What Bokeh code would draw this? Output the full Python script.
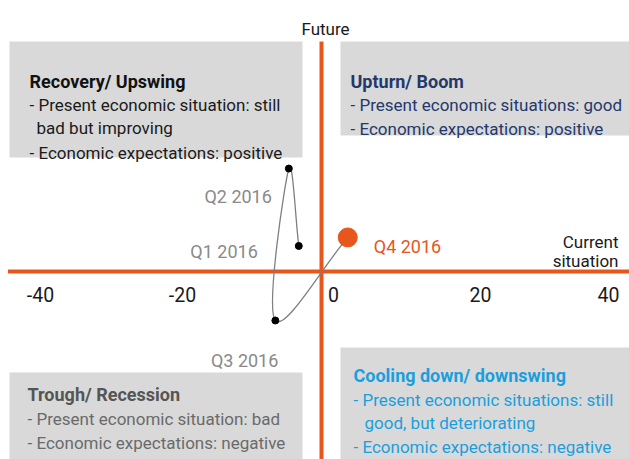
import numpy as np
from bokeh.plotting import figure
from bokeh.models import Range1d
from bokeh.core.properties import value
from bokeh.embed import file_html
from bokeh.resources import INLINE

# ---------------- data ----------------
quarters = ["Q1 2016", "Q2 2016", "Q3 2016", "Q4 2016"]
current_situation = [-3.2, -4.6, -6.5, 3.7]      # x: current situation
expectations = [3.6, 14.5, -6.9, 4.8]            # y: future expectations
tick_values = [-40, -20, 0, 20, 40]
tick_labels = ["-40", "-20", "0", "20", "40"]

# ---------------- layout helpers ----------------
W, H = 629, 459
S = 7.1          # pixels per unit
X0, Y0 = 321, 271  # pixel position of the origin


def dx(px):
    return (px - X0) / S


def dy(py):
    return (Y0 - py) / S


FONT = "Roboto"
ORANGE = "#e8561c"
BOX = "#d9d9da"
FS = "17px"
FS_TITLE = "18px"

p = figure(width=W, height=H, x_range=Range1d(dx(0), dx(W)),
           y_range=Range1d(dy(H), dy(0)), output_backend="svg",
           toolbar_location=None, min_border=0)
p.axis.visible = False
p.grid.visible = False
p.outline_line_color = None
p.background_fill_color = "white"
p.border_fill_color = "white"

# quadrant boxes (pixel extents -> data)
boxes = [(9, 302, 41, 157), (340, W, 41, 135), (9, 302, 372, H), (340, W, 347, H)]
p.quad(left=[dx(b[0]) for b in boxes], right=[dx(b[1]) for b in boxes],
       top=[dy(b[2]) for b in boxes], bottom=[dy(b[3]) for b in boxes],
       fill_color=BOX, line_color=None)

# axis lines
p.segment(x0=[dx(7.5), 0], y0=[0, dy(41)], x1=[dx(W), 0], y1=[0, dy(H)],
          line_color=ORANGE, line_width=4)


def txt(x, y, s, color, align="left", bold=False, size=FS):
    p.text(x=[x], y=[y], text=[s], text_color=color, text_align=align,
           text_baseline="alphabetic", text_font=value(FONT),
           text_font_size=size, text_font_style="bold" if bold else "normal")


# tick labels along the horizontal line
tick_dx = [3, 3, 12, 17, 3]
for v, lab, off in zip(tick_values, tick_labels, tick_dx):
    p.text(x=[v], y=[0], text=[lab], text_color="#1a1a1a", text_align="center",
           text_baseline="alphabetic", text_font=value(FONT),
           text_font_size="19.5px", x_offset=off, y_offset=23)

# axis titles
txt(dx(325), dy(28), "Future", "#1a1a1a", align="center")
txt(dx(618), dy(241), "Current", "#1a1a1a", align="right")
txt(dx(618), dy(260), "situation", "#1a1a1a", align="right")

# quadrant texts
TL, TLt = "#1a1a1a", "#111111"
txt(dx(29), dy(81), "Recovery/ Upswing", TLt, bold=True, size=FS_TITLE)
txt(dx(29), dy(104.5), "- Present economic situation: still", TL)
txt(dx(36), dy(127.5), "bad but improving", TL)
txt(dx(29), dy(152), "- Economic expectations: positive", TL)

TR = "#24386b"
txt(dx(350), dy(81), "Upturn/ Boom", TR, bold=True, size=FS_TITLE)
txt(dx(350), dy(104.5), "- Present economic situations: good", TR)
txt(dx(350), dy(128), "- Economic expectations: positive", TR)

BLt, BL = "#555555", "#6a6a6a"
txt(dx(27), dy(394), "Trough/ Recession", BLt, bold=True, size=FS_TITLE)
txt(dx(27), dy(418), "- Present economic situation: bad", BL)
txt(dx(27), dy(442), "- Economic expectations: negative", BL)

BR = "#1a9fdd"
txt(dx(353), dy(374.5), "Cooling down/ downswing", BR, bold=True, size=FS_TITLE)
txt(dx(353), dy(399.5), "- Present economic situations: still", BR)
txt(dx(364), dy(422), "good, but deteriorating", BR)
txt(dx(353), dy(446.5), "- Economic expectations: negative", BR)

# smooth path through the quarters (Catmull-Rom style bezier)
P = np.column_stack([current_situation, expectations]).astype(float)
n = len(P)
seg = {k: [] for k in ["x0", "y0", "x1", "y1", "cx0", "cy0", "cx1", "cy1"]}
for i in range(n - 1):
    a, b = P[i], P[i + 1]
    ta = (P[i + 1] - P[i - 1]) / 6 if i > 0 else (b - a) / 3
    tb = (P[i + 2] - P[i]) / 6 if i + 2 < n else (b - a) / 3
    c0, c1 = a + ta, b - tb
    seg["x0"].append(a[0]); seg["y0"].append(a[1])
    seg["x1"].append(b[0]); seg["y1"].append(b[1])
    seg["cx0"].append(c0[0]); seg["cy0"].append(c0[1])
    seg["cx1"].append(c1[0]); seg["cy1"].append(c1[1])
p.bezier(**seg, line_color="#7f7f7f", line_width=1.3)

# points
p.scatter(current_situation[:-1], expectations[:-1], size=7, color="black")
p.scatter(current_situation[-1:], expectations[-1:], size=19, color=ORANGE)

# point labels
label_offsets = [(-41, 6), (-17, 28), (3, 40), (26, 9)]
label_align = ["right", "right", "right", "left"]
label_colors = ["#8a8a8a", "#8a8a8a", "#8a8a8a", ORANGE]
for i, q in enumerate(quarters):
    p.text(x=[current_situation[i]], y=[expectations[i]], text=[q],
           text_color=label_colors[i], text_align=label_align[i],
           text_baseline="alphabetic", text_font=value(FONT),
           text_font_size="18px", x_offset=label_offsets[i][0],
           y_offset=label_offsets[i][1])

open("out.html", "w").write(file_html(p, INLINE))
